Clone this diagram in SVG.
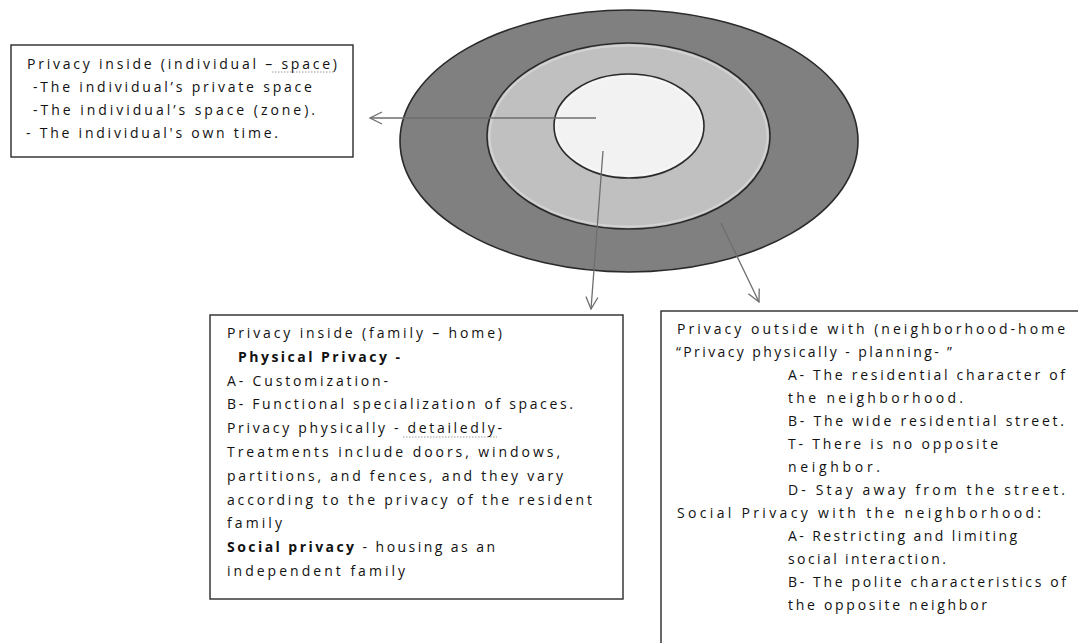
<svg xmlns="http://www.w3.org/2000/svg" width="1078" height="643" viewBox="0 0 1078 643">
<defs>
<style>
.box{fill:#fff;stroke:#2a2a2a;stroke-width:1.4}
.t{font-family:"Open Sans","Noto Sans",sans-serif;font-size:14px;fill:#111}
.b{font-weight:bold}
.ring{stroke:#2a2a2a;stroke-width:1.6}
.glow{fill:none;stroke:#ffffff;stroke-opacity:0.3;stroke-width:2}
.conn{fill:none;stroke:#6e6e6e;stroke-width:1.3}
.sq{fill:none;stroke:#9a9a9a;stroke-width:1;stroke-dasharray:1.5 1.5}
</style>
<marker id="ah" markerUnits="userSpaceOnUse" markerWidth="16" markerHeight="16" refX="13" refY="7" orient="auto">
<path d="M1,1 L13,7 L1,13" fill="none" stroke="#6e6e6e" stroke-width="1.3"/>
</marker>
</defs>
<rect width="1078" height="643" fill="#fff"/>

<g id="rings">
<ellipse class="ring" cx="629" cy="141" rx="229" ry="131" fill="#808080"/>
<ellipse class="ring" cx="628.5" cy="136" rx="141.5" ry="93" fill="#c0c0c0"/>
<ellipse class="glow" cx="628.5" cy="136" rx="139" ry="90.5"/>
<ellipse class="ring" cx="629" cy="126" rx="75" ry="52" fill="#f2f2f2"/>
<ellipse class="glow" cx="629" cy="126" rx="72.5" ry="49.5"/>
</g>

<g id="connectors">
<line class="conn" x1="596" y1="118" x2="370" y2="118" marker-end="url(#ah)"/>
<line class="conn" x1="603" y1="151" x2="591" y2="309" marker-end="url(#ah)"/>
<line class="conn" x1="721" y1="223" x2="759" y2="302" marker-end="url(#ah)"/>
</g>

<g id="node-individual">
<rect class="box" x="11" y="45" width="342" height="112"/>
<text class="t" x="27" y="68.5" textLength="310" lengthAdjust="spacing">Privacy inside (individual – space)</text>
<path class="sq" d="M272,72 L334,72"/>
<text class="t" x="33" y="91.8" textLength="279" lengthAdjust="spacing">-The individual’s private space</text>
<text class="t" x="33" y="115.1" textLength="282" lengthAdjust="spacing">-The individual’s space (zone).</text>
<text class="t" x="26" y="138.4" textLength="252" lengthAdjust="spacing">- The individual's own time.</text>
</g>

<g id="node-family">
<rect class="box" x="210" y="315" width="413" height="284"/>
<text class="t" x="227" y="338" textLength="275" lengthAdjust="spacing">Privacy inside (family – home)</text>
<text class="t b" x="238" y="361.8" textLength="162" lengthAdjust="spacing">Physical  Privacy  -</text>
<text class="t" x="227" y="385.6" textLength="161" lengthAdjust="spacing">A- Customization-</text>
<text class="t" x="227" y="409.4" textLength="346" lengthAdjust="spacing">B- Functional specialization of spaces.</text>
<text class="t" x="227" y="433.2" textLength="275" lengthAdjust="spacing">Privacy physically - detailedly-</text>
<path class="sq" d="M403,437 L497,437"/>
<text class="t" x="227" y="457" textLength="333" lengthAdjust="spacing">Treatments include doors, windows,</text>
<text class="t" x="227" y="480.8" textLength="336" lengthAdjust="spacing">partitions, and fences, and they vary</text>
<text class="t" x="227" y="504.6" textLength="365" lengthAdjust="spacing">according to the privacy of the resident</text>
<text class="t" x="227" y="528.4" textLength="55" lengthAdjust="spacing">family</text>
<text class="t" x="227" y="552.2" textLength="268" lengthAdjust="spacing"><tspan class="b">Social  privacy</tspan> - housing as an</text>
<text class="t" x="227" y="576" textLength="178" lengthAdjust="spacing">independent family</text>
</g>

<g id="node-neighborhood">
<rect class="box" x="661" y="311" width="430" height="345"/>
<text class="t" x="677" y="333.5" textLength="388" lengthAdjust="spacing">Privacy outside with (neighborhood-home</text>
<text class="t" x="676" y="356.6" textLength="276" lengthAdjust="spacing">“Privacy physically - planning- ”</text>
<text class="t" x="788" y="379.6" textLength="277" lengthAdjust="spacing">A- The residential character of</text>
<text class="t" x="788" y="402.7" textLength="175" lengthAdjust="spacing">the neighborhood.</text>
<text class="t" x="788" y="425.7" textLength="276" lengthAdjust="spacing">B- The wide residential street.</text>
<text class="t" x="788" y="448.8" textLength="210" lengthAdjust="spacing">T- There is no opposite</text>
<text class="t" x="788" y="471.9" textLength="92" lengthAdjust="spacing">neighbor.</text>
<text class="t" x="788" y="494.9" textLength="277" lengthAdjust="spacing">D- Stay away from the street.</text>
<text class="t" x="677" y="518" textLength="364" lengthAdjust="spacing">Social Privacy with the neighborhood:</text>
<text class="t" x="788" y="541" textLength="229" lengthAdjust="spacing">A- Restricting and limiting</text>
<text class="t" x="788" y="564.1" textLength="158" lengthAdjust="spacing">social interaction.</text>
<text class="t" x="788" y="587.2" textLength="278" lengthAdjust="spacing">B- The polite characteristics of</text>
<text class="t" x="788" y="610.2" textLength="199" lengthAdjust="spacing">the opposite neighbor</text>
</g>
</svg>
